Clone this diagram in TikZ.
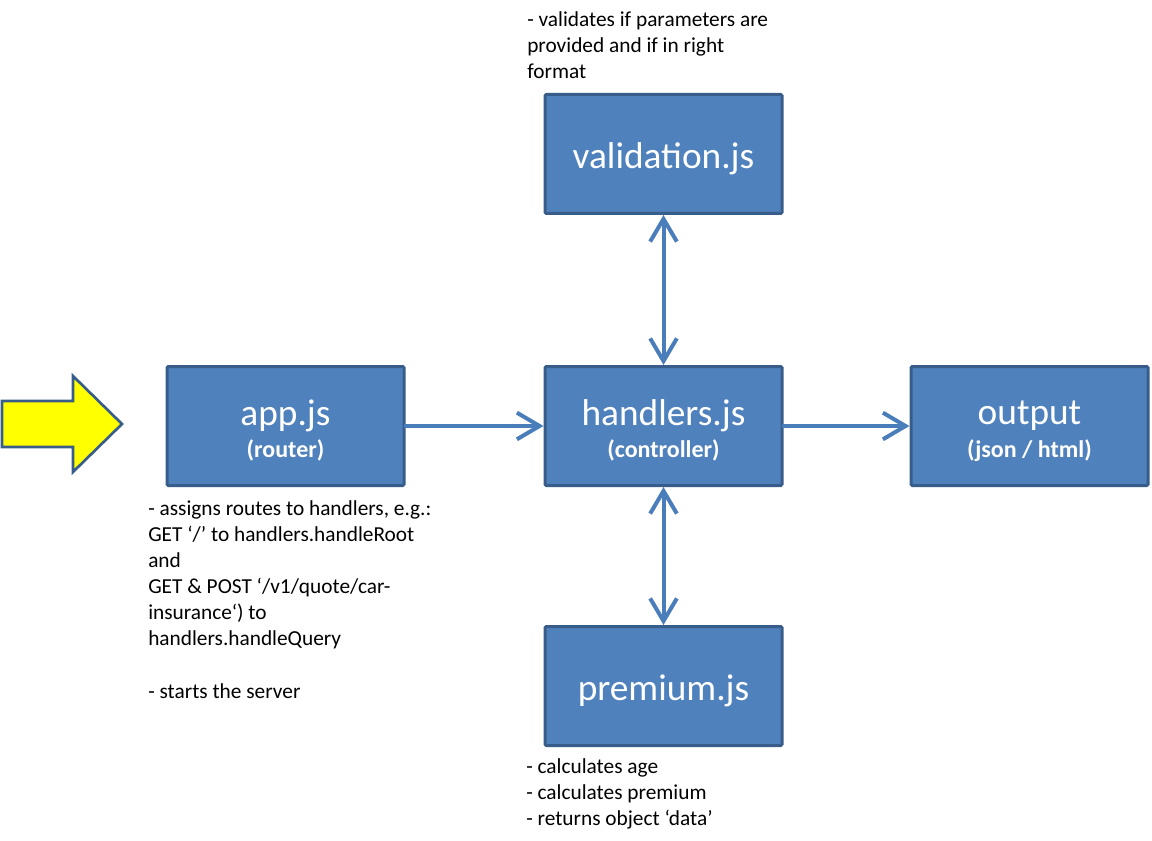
\documentclass[tikz,border=0pt]{standalone}
\usepackage{fontspec}
\setmainfont{Carlito}
\usetikzlibrary{arrows.meta}
\definecolor{boxfill}{HTML}{4F81BD}
\definecolor{boxline}{HTML}{385D8A}
\definecolor{conn}{HTML}{4A7EBB}
\definecolor{yel}{HTML}{FFFF00}
\newcommand{\tp}{\rule{0pt}{26pt}}
\newcommand{\subl}[1]{{\fontsize{18}{20}\selectfont\bfseries #1}}
\tikzset{
  block/.style={draw=boxline, fill=boxfill, line width=2.25pt, rounded corners=1pt,
    minimum width=177.75pt, minimum height=89.25pt, text=white, align=center,
    inner sep=0pt, font=\fontsize{28}{30}\selectfont},
  note/.style={anchor=north west, align=left, inner sep=0pt, text=black,
    font=\fontsize{16}{19.6}\selectfont},
  conn/.style={draw=conn, line width=3pt, line cap=round,
    arrows={-Straight Barb[length=17pt, width=20pt]}},
  biconn/.style={conn, arrows={Straight Barb[length=17pt, width=20pt]-Straight Barb[length=17pt, width=20pt]}},
}
\begin{document}
\begin{tikzpicture}[x=0.75pt, y=-0.75pt]
\useasboundingbox (0,0) rectangle (1152,841);
% yellow arrow
\draw[draw=boxline, fill=yel, line width=2pt, line join=miter]
  (2,401) -- (73,401) -- (73,376) -- (122,424) -- (73,472) -- (73,447) -- (2,447) -- cycle;
% boxes
\node[block] (val) at (663.5,154) {\tp validation.js};
\node[block] (app) at (285.5,426) {\tp app.js\\[-5.5pt]\subl{(router)}};
\node[block] (han) at (663.5,426) {\tp handlers.js\\[-5.5pt]\subl{(controller)}};
\node[block] (out) at (1029.5,426) {\tp output\\[-5.5pt]\subl{(json / html)}};
\node[block] (pre) at (663.5,686) {\tp premium.js};
% connectors
\draw[conn] (app) -- (han);
\draw[conn] (han) -- (out);
\draw[biconn] (val) -- (han);
\draw[biconn] (han) -- (pre);
% notes
\node[note] (nval) at (527,11) {- validates if parameters are\\provided and if in right\\format};
\node[note] (napp) at (148,500) {- assigns routes to handlers, e.g.:\\GET ‘/’ to handlers.handleRoot\\and\\GET \& POST ‘/v1/quote/car-\\insurance‘) to\\handlers.handleQuery\\[19.6pt]- starts the server};
\node[note] (npre) at (526,758) {- calculates age\\- calculates premium\\- returns object ‘data’};
\end{tikzpicture}
\end{document}
